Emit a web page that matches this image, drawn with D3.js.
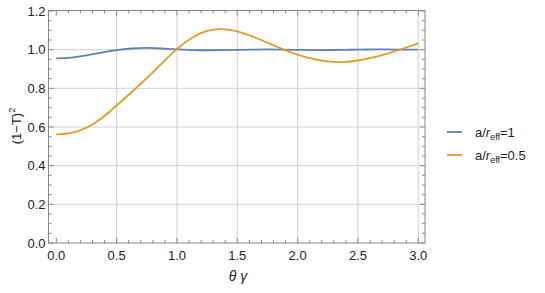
<!DOCTYPE html>
<html><head><meta charset="utf-8">
<script src="https://cdn.jsdelivr.net/npm/d3@7"></script>
<style>body{margin:0;background:#fff;} text{font-family:"Liberation Sans",Arial,sans-serif;}</style>
</head><body>
<svg id="c" width="545" height="293"></svg>
<script>
const xs = [0, 0.125, 0.25, 0.375, 0.5, 0.625, 0.75, 0.875, 1.0, 1.125, 1.25, 1.375, 1.5,
            1.625, 1.75, 1.875, 2.0, 2.125, 2.25, 2.375, 2.5, 2.625, 2.75, 2.875, 3.0];
const seriesBlue = [0.955, 0.959, 0.970, 0.985, 0.998, 1.006, 1.009, 1.006, 1.001, 0.998, 0.997, 0.998, 0.999,
                    1.0, 1.001, 1.0, 0.999, 0.998, 0.998, 0.999, 1.0, 1.001, 1.001, 1.0, 1.0];
const seriesOrange = [0.562, 0.570, 0.596, 0.645, 0.711, 0.781, 0.853, 0.929, 1.004, 1.062, 1.097, 1.106, 1.094,
                      1.068, 1.036, 1.003, 0.974, 0.952, 0.939, 0.936, 0.944, 0.960, 0.981, 1.006, 1.033];
const xTicks = [0, 0.5, 1.0, 1.5, 2.0, 2.5, 3.0];
const yTicks = [0, 0.2, 0.4, 0.6, 0.8, 1.0, 1.2];
const legendLabels = ["1", "0.5"];
const colors = ["#5E81B5", "#E19C24"];

const svg = d3.select("#c");
const L = 48.5, R = 425, T = 10.5, B = 243;
const x = d3.scaleLinear().domain([0, 3]).range([56.3, 418.3]);
const y = d3.scaleLinear().domain([0, 1.2]).range([243, 11]);

// grid
const g = svg.append("g");
g.selectAll(".vg").data(xTicks.filter(d => d > 0)).join("line")
  .attr("x1", d => x(d)).attr("x2", d => x(d)).attr("y1", T).attr("y2", B)
  .attr("stroke", "#d0d0d0").attr("stroke-width", 1);
g.selectAll(".hg").data(yTicks.filter(d => d > 0 && d < 1.2)).join("line")
  .attr("y1", d => y(d)).attr("y2", d => y(d)).attr("x1", L).attr("x2", R)
  .attr("stroke", "#d0d0d0").attr("stroke-width", 1);

// lines
const line = d3.line().x((d, i) => x(xs[i])).y(d => y(d)).curve(d3.curveNatural);
[seriesBlue, seriesOrange].forEach((s, k) => {
  svg.append("path").attr("d", line(s)).attr("fill", "none")
    .attr("stroke", colors[k]).attr("stroke-width", 1.8);
});

// frame
svg.append("rect").attr("x", L).attr("y", T).attr("width", R - L).attr("height", B - T)
  .attr("fill", "none").attr("stroke", "#888").attr("stroke-width", 1);

// ticks
const tk = svg.append("g").attr("stroke", "#888").attr("stroke-width", 1);
const xMinor = d3.range(0, 3.0001, 0.1);
xMinor.forEach((v, i) => {
  const major = i % 5 === 0;
  const len = major ? 5 : 3;
  tk.append("line").attr("x1", x(v)).attr("x2", x(v)).attr("y1", B).attr("y2", B - len);
  tk.append("line").attr("x1", x(v)).attr("x2", x(v)).attr("y1", T).attr("y2", T + len);
});
const yMinor = d3.range(0, 1.2001, 0.05);
yMinor.forEach((v, i) => {
  const major = i % 4 === 0;
  const len = major ? 5 : 3;
  tk.append("line").attr("y1", y(v)).attr("y2", y(v)).attr("x1", L).attr("x2", L + len);
  tk.append("line").attr("y1", y(v)).attr("y2", y(v)).attr("x1", R).attr("x2", R - len);
});

// tick labels
svg.selectAll(".xl").data(xTicks).join("text")
  .attr("x", d => x(d)).attr("y", B + 17).attr("text-anchor", "middle")
  .attr("font-size", 13).attr("fill", "#222").text(d => d.toFixed(1));
svg.selectAll(".yl").data(yTicks).join("text")
  .attr("x", L - 3).attr("y", d => y(d) + 4.5).attr("text-anchor", "end")
  .attr("font-size", 13).attr("fill", "#222").text(d => d.toFixed(1));

// axis labels
svg.append("text").attr("x", 238).attr("y", 281).attr("text-anchor", "middle")
  .attr("font-size", 14).attr("font-style", "italic").attr("fill", "#222").text("θ γ");
const yl = svg.append("text").attr("transform", "translate(21,126) rotate(-90)")
  .attr("text-anchor", "middle").attr("font-size", 13).attr("fill", "#222");
yl.append("tspan").text("(1−T)");
yl.append("tspan").attr("font-size", 9).attr("dy", -6).text("2");

// legend
legendLabels.forEach((lab, k) => {
  const ly = 132 + k * 23;
  svg.append("line").attr("x1", 447).attr("x2", 462).attr("y1", ly).attr("y2", ly)
    .attr("stroke", colors[k]).attr("stroke-width", 1.8);
  const t = svg.append("text").attr("x", 475).attr("y", ly + 4.5).attr("font-size", 13).attr("fill", "#222");
  t.append("tspan").text("a/");
  t.append("tspan").attr("font-style", "italic").text("r");
  t.append("tspan").attr("font-size", 9).attr("dy", 3).text("eff");
  t.append("tspan").attr("dy", -3).text("=" + lab);
});
</script>
</body></html>
